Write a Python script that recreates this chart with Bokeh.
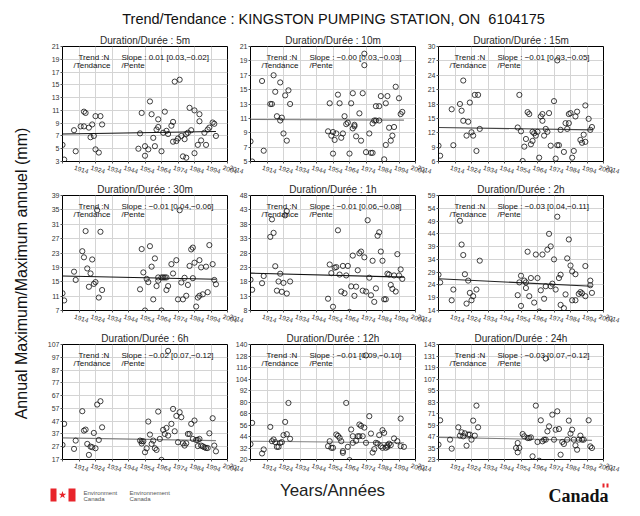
import math
from bokeh.plotting import figure
from bokeh.layouts import column, row
from bokeh.models import FixedTicker, Label, Range1d, Title
from bokeh.embed import file_html
from bokeh.resources import INLINE

MAIN_TITLE = "Trend/Tendance : KINGSTON PUMPING STATION, ON\u00a0 6104175"
Y_LABEL = "Annual Maximum/Maximum annuel (mm)"
X_LABEL = "Years/Années"

durations = ["5m", "10m", "15m", "30m", "1h", "2h", "6h", "12h", "24h"]
slope_texts = [
    "Slope : 0.01 [0.03,\u22120.02]",
    "Slope : \u22120.00 [0.03,\u22120.03]",
    "Slope : \u22120.01 [0.03,\u22120.05]",
    "Slope : \u22120.01 [0.04,\u22120.06]",
    "Slope : \u22120.01 [0.06,\u22120.08]",
    "Slope : \u22120.03 [0.04,\u22120.11]",
    "Slope : \u22120.02 [0.07,\u22120.12]",
    "Slope : \u22120.01 [0.09,\u22120.10]",
    "Slope : \u22120.03 [0.07,\u22120.12]",
]
trend_texts = ["Trend :N"] * 9

x_ticks = [1914, 1924, 1934, 1944, 1954, 1964, 1974, 1984, 1994, 2004, 2014]

y_ticks_5m = [3, 5, 7, 9, 11, 13, 15, 17, 19, 21]
y_ticks_10m = [5, 7, 9, 11, 13, 15, 17, 19, 21]
y_ticks_15m = [6, 9, 12, 15, 18, 21, 24, 27, 30]
y_ticks_30m = [7, 11, 15, 19, 23, 27, 31, 35, 39]
y_ticks_1h = [8, 13, 18, 23, 28, 33, 38, 43, 48]
y_ticks_2h = [14, 19, 24, 29, 34, 39, 44, 49, 54, 59]
y_ticks_6h = [17, 27, 37, 47, 57, 67, 77, 87, 97, 107]
y_ticks_12h = [20, 32, 44, 56, 68, 80, 92, 104, 116, 128, 140]
y_ticks_24h = [23, 35, 47, 59, 71, 83, 95, 107, 119, 131, 143]

years_5m = [1914, 1915, 1921, 1922, 1925, 1927, 1927, 1928, 1930, 1931, 1932, 1933, 1934, 1934, 1936, 1937, 1938,
            1960, 1961, 1962, 1964, 1964, 1966, 1967, 1968, 1969, 1970, 1971, 1972, 1972, 1974, 1975, 1976, 1977,
            1978, 1980, 1981, 1981, 1982, 1983, 1984, 1985, 1986, 1987, 1988, 1989, 1989, 1990, 1991, 1992, 1994,
            1994, 1996, 1997, 1997, 1998, 2000, 2001, 2002, 2003, 2005, 2006, 2007]
vals_5m = [5.6, 3.3, 7.9, 4.6, 8.5, 8.5, 10.8, 10.6, 8.3, 6.8, 8.8, 7.0, 4.9, 10.1, 4.4, 10.1, 8.8,
           5.0, 7.4, 10.6, 3.9, 5.4, 4.9, 12.4, 10.4, 6.7, 5.4, 8.0, 9.6, 8.4, 4.6, 7.5, 10.8, 7.8,
           7.3, 8.6, 6.1, 9.2, 15.5, 6.2, 6.6, 15.8, 7.0, 3.8, 6.5, 3.6, 7.3, 7.5, 11.4, 7.9, 11.0,
           4.3, 5.6, 9.3, 10.4, 6.3, 7.5, 5.6, 8.0, 8.3, 9.1, 8.9, 7.0]

years_10m = [1914, 1915, 1921, 1922, 1926, 1927, 1928, 1929, 1930, 1932, 1932, 1933, 1934, 1935, 1936, 1937, 1938,
             1961, 1962, 1963, 1964, 1964, 1965, 1966, 1967, 1968, 1969, 1970, 1971, 1972, 1973, 1974, 1975, 1976,
             1976, 1977, 1977, 1978, 1980, 1981, 1982, 1983, 1983, 1984, 1986, 1987, 1988, 1988, 1989, 1990, 1990,
             1992, 1992, 1993, 1995, 1996, 1996, 1997, 1998, 1999, 2000, 2001, 2002, 2004, 2005, 2006]
vals_10m = [7.8, 5.0, 16.2, 6.5, 13.0, 13.0, 17.0, 14.7, 11.3, 10.7, 16.0, 11.1, 8.9, 14.2, 7.9, 14.9, 13.0,
            9.2, 13.1, 8.6, 6.1, 9.1, 8.0, 8.9, 14.3, 13.1, 8.3, 8.9, 11.3, 10.2, 10.4, 6.1, 13.1, 14.5,
            9.6, 9.9, 10.1, 8.5, 11.7, 7.9, 14.5, 18.4, 20.0, 6.3, 8.9, 6.2, 10.3, 6.2, 10.7, 10.7, 12.7,
            10.7, 12.7, 14.1, 5.3, 7.3, 13.1, 14.1, 9.7, 7.9, 8.6, 9.8, 15.4, 13.8, 11.6, 11.9]

years_15m = [1914, 1915, 1922, 1923, 1927, 1928, 1929, 1929, 1931, 1932, 1933, 1934, 1935, 1936, 1937, 1938, 1939,
             1962, 1963, 1964, 1965, 1966, 1967, 1968, 1969, 1970, 1971, 1971, 1972, 1973, 1974, 1975, 1976, 1977,
             1977, 1978, 1979, 1980, 1981, 1982, 1984, 1985, 1986, 1986, 1987, 1988, 1990, 1991, 1992, 1993, 1993,
             1994, 1995, 1996, 1997, 1998, 2000, 2001, 2002, 2003, 2003, 2005, 2006, 2007]
vals_15m = [9.3, 7.2, 16.9, 9.4, 18.0, 16.6, 22.9, 14.5, 11.4, 14.3, 18.3, 12.1, 11.4, 19.9, 8.2, 19.9, 12.8,
            13.1, 19.9, 12.3, 6.1, 9.1, 10.7, 16.3, 15.9, 9.6, 12.2, 10.3, 11.9, 11.4, 12.2, 6.8, 15.4, 15.9,
            14.5, 11.4, 12.8, 12.2, 16.1, 9.3, 18.6, 6.6, 27.1, 9.4, 9.4, 12.6, 8.0, 14.0, 12.8, 14.0, 15.9,
            16.1, 6.8, 8.2, 15.4, 16.4, 10.5, 9.9, 11.6, 10.1, 17.7, 14.9, 12.6, 13.2]

years_30m = [1914, 1915, 1921, 1922, 1926, 1927, 1928, 1929, 1930, 1931, 1932, 1933, 1934, 1935, 1936, 1937, 1938,
             1961, 1962, 1963, 1964, 1965, 1966, 1967, 1968, 1969, 1970, 1971, 1972, 1972, 1974, 1974, 1975, 1976,
             1977, 1977, 1978, 1980, 1981, 1983, 1984, 1985, 1986, 1987, 1988, 1989, 1990, 1991, 1992, 1993, 1993,
             1994, 1995, 1996, 1997, 1997, 1998, 1999, 2001, 2002, 2003, 2005, 2006, 2007]
vals_30m = [11.8, 9.8, 17.8, 15.5, 23.5, 21.8, 29.1, 18.7, 13.6, 17.3, 21.2, 14.4, 14.9, 34.9, 10.6, 28.9, 12.7,
            12.9, 24.1, 17.6, 7.0, 15.8, 14.9, 24.9, 19.2, 10.1, 21.5, 13.8, 15.3, 16.2, 16.2, 7.0, 16.2, 16.2,
            12.7, 16.2, 13.8, 19.9, 17.3, 21.0, 10.1, 34.9, 14.8, 10.1, 16.1, 11.1, 14.1, 19.4, 24.0, 24.5, 16.0,
            20.3, 8.1, 10.6, 11.1, 21.0, 19.0, 11.5, 19.2, 12.1, 25.2, 19.9, 15.5, 14.3]

years_1h = [1914, 1915, 1921, 1922, 1926, 1927, 1928, 1929, 1930, 1931, 1932, 1933, 1934, 1935, 1936, 1936, 1938,
            1961, 1962, 1963, 1964, 1965, 1966, 1967, 1968, 1969, 1970, 1971, 1972, 1973, 1974, 1975, 1976, 1977,
            1978, 1979, 1980, 1981, 1982, 1983, 1984, 1985, 1986, 1987, 1988, 1989, 1990, 1991, 1992, 1993, 1994,
            1995, 1996, 1997, 1998, 1999, 2000, 2001, 2002, 2003, 2004, 2005, 2006]
vals_1h = [18.7, 15.2, 17.5, 20.0, 33.6, 39.7, 35.0, 23.4, 14.9, 18.1, 20.8, 14.5, 17.6, 41.1, 42.6, 13.9, 18.1,
           12.1, 24.0, 21.0, 9.3, 22.9, 23.1, 35.9, 20.5, 14.6, 23.5, 14.0, 20.2, 23.5, 7.5, 16.4, 27.1, 13.1,
           16.3, 22.0, 27.9, 28.5, 14.9, 26.5, 14.6, 39.4, 19.4, 13.3, 25.3, 11.0, 15.7, 34.0, 35.2, 28.5, 25.3,
           11.9, 11.9, 20.8, 20.5, 16.9, 15.5, 20.2, 14.6, 27.6, 20.2, 22.3, 19.0]

years_2h = [1914, 1915, 1922, 1923, 1927, 1928, 1929, 1930, 1931, 1932, 1933, 1934, 1935, 1937, 1939,
            1962, 1963, 1964, 1964, 1966, 1967, 1967, 1968, 1969, 1970, 1972, 1973, 1974, 1975, 1976, 1977, 1978,
            1979, 1980, 1981, 1982, 1982, 1983, 1984, 1985, 1986, 1987, 1988, 1988, 1990, 1991, 1992, 1993, 1994,
            1995, 1995, 1997, 1997, 1999, 2000, 2001, 2003, 2003, 2006, 2006, 2007]
vals_2h = [28.0, 25.0, 18.0, 22.2, 49.1, 39.8, 35.7, 28.2, 16.7, 25.7, 20.9, 18.0, 19.6, 22.2, 33.5,
           20.0, 25.0, 27.6, 15.8, 25.7, 25.0, 22.8, 37.0, 19.6, 26.7, 17.1, 35.9, 26.7, 13.6, 21.9, 35.9, 18.6,
           23.5, 37.8, 44.0, 39.1, 23.5, 24.5, 34.0, 22.2, 50.7, 26.7, 16.2, 28.0, 14.9, 20.3, 34.4, 41.8, 31.6,
           29.3, 18.0, 18.0, 28.2, 20.5, 21.2, 20.7, 19.6, 31.4, 23.9, 25.7, 20.9]

years_6h = [1914, 1915, 1921, 1922, 1926, 1927, 1928, 1929, 1930, 1931, 1932, 1933, 1934, 1935, 1936, 1937, 1938,
            1961, 1962, 1962, 1963, 1964, 1965, 1966, 1967, 1968, 1969, 1970, 1971, 1972, 1973, 1974, 1975, 1976,
            1977, 1978, 1978, 1980, 1981, 1982, 1983, 1984, 1985, 1986, 1987, 1988, 1989, 1990, 1991, 1992, 1993,
            1994, 1995, 1996, 1996, 1997, 1998, 1999, 2000, 2001, 2002, 2003, 2005, 2006, 2007]
vals_6h = [28.4, 44.9, 25.3, 31.8, 54.8, 39.6, 40.4, 29.2, 20.6, 27.1, 26.6, 37.8, 25.8, 60.0, 32.3, 62.6, 42.2,
           31.8, 31.3, 29.5, 31.3, 22.7, 25.8, 46.7, 36.5, 29.2, 31.8, 25.8, 24.5, 54.5, 33.1, 16.7, 40.2, 37.0,
           41.7, 35.7, 102.0, 44.9, 56.6, 39.1, 51.1, 30.5, 54.0, 50.1, 29.7, 27.9, 29.7, 37.0, 37.0, 44.9, 33.1,
           47.5, 32.3, 32.3, 27.5, 33.1, 27.9, 27.3, 26.6, 26.0, 26.0, 37.5, 49.3, 27.9, 23.4]

years_12h = [1914, 1915, 1921, 1922, 1926, 1927, 1928, 1929, 1930, 1931, 1932, 1933, 1934, 1935, 1936, 1937, 1938,
             1961, 1962, 1963, 1964, 1966, 1967, 1968, 1969, 1970, 1970, 1972, 1973, 1974, 1975, 1976, 1976, 1978,
             1979, 1980, 1980, 1981, 1982, 1983, 1984, 1984, 1986, 1987, 1988, 1989, 1990, 1991, 1992, 1993, 1994,
             1994, 1995, 1996, 1997, 1997, 1998, 1999, 2001, 2003, 2005, 2005, 2007]
vals_12h = [36.0, 58.2, 26.3, 30.5, 54.0, 39.1, 40.9, 38.1, 33.2, 33.2, 37.4, 38.1, 45.4, 59.2, 46.4, 79.0, 41.6,
            33.9, 39.1, 32.2, 32.2, 46.1, 44.7, 42.6, 39.1, 27.0, 28.7, 79.0, 33.2, 19.4, 51.3, 37.4, 44.3, 39.5,
            44.3, 44.3, 56.5, 55.1, 44.3, 53.3, 37.4, 128.6, 65.2, 47.1, 27.3, 30.8, 37.4, 36.7, 45.4, 33.9, 32.2,
            50.6, 47.8, 32.2, 33.2, 34.8, 36.5, 35.0, 42.0, 39.1, 62.7, 33.9, 33.2]

years_24h = [1914, 1915, 1921, 1922, 1926, 1927, 1928, 1929, 1930, 1931, 1932, 1933, 1934, 1935, 1936, 1937, 1938,
             1961, 1962, 1962, 1963, 1965, 1966, 1968, 1969, 1970, 1971, 1973, 1974, 1975, 1976, 1977, 1978, 1979,
             1979, 1980, 1981, 1983, 1984, 1985, 1986, 1987, 1988, 1989, 1990, 1992, 1993, 1994, 1995, 1996, 1997,
             1998, 1999, 2000, 2001, 2002, 2005, 2006, 2007]
vals_24h = [38.5, 63.9, 43.7, 34.3, 56.6, 47.9, 51.4, 47.2, 50.3, 37.4, 49.0, 49.0, 43.7, 63.6, 47.9, 79.2, 56.6,
            35.0, 30.5, 40.2, 35.0, 49.6, 47.2, 45.4, 45.4, 46.1, 26.3, 79.2, 41.3, 21.7, 63.9, 42.0, 43.7, 43.7,
            128.4, 52.4, 57.6, 69.8, 43.7, 54.1, 73.3, 54.8, 28.0, 41.3, 39.2, 43.7, 63.6, 50.0, 54.1, 43.7, 37.8,
            33.2, 43.7, 47.9, 43.7, 43.7, 63.9, 36.7, 35.0]

trend_years = [1914, 2007]
trend_start = [7.3, 10.85, 13.1, 16.6, 21.0, 26.4, 33.9, 39.1, 46.1]
trend_end = [7.7, 10.75, 12.6, 15.7, 19.6, 23.5, 31.8, 37.4, 43.0]
trend_colors = ["#111111", "#7a7a7a", "#444444", "#111111", "#111111", "#222222", "#808080", "#808080", "#808080"]

all_years = [years_5m, years_10m, years_15m, years_30m, years_1h, years_2h, years_6h, years_12h, years_24h]
all_vals = [vals_5m, vals_10m, vals_15m, vals_30m, vals_1h, vals_2h, vals_6h, vals_12h, vals_24h]
all_yticks = [y_ticks_5m, y_ticks_10m, y_ticks_15m, y_ticks_30m, y_ticks_1h, y_ticks_2h,
              y_ticks_6h, y_ticks_12h, y_ticks_24h]

FONT = "Liberation Sans"
B_LEFT, B_RIGHT, B_TOP, B_BOTTOM = 18, 17, 13, 18
PANEL_W, PANEL_H = B_LEFT + 165 + B_RIGHT, 149
OVERLAP = B_LEFT + B_RIGHT - 23   # neighbouring panels share their (transparent) border strips
# bokeh centres rotated tick labels on the tick: pad on the left so each year starts at its tick
X_PAD = "\u00a0" * 7
x_label_overrides = {t: X_PAD + str(t) for t in x_ticks}


def make_panel(i):
    yt = all_yticks[i]
    title = Title(text="Duration/Durée : " + durations[i], align="center", text_font=FONT,
                  text_font_size="10px", text_font_style="normal", text_color="#2a2a2a",
                  standoff=1, offset=0)
    margin = (0, -OVERLAP, 0, 0) if i % 3 < 2 else (0, 0, 0, 0)
    p = figure(width=PANEL_W, height=PANEL_H, title=title, margin=margin,
               x_range=Range1d(x_ticks[0], x_ticks[-1]), y_range=Range1d(yt[0], yt[-1]),
               toolbar_location=None, output_backend="svg",
               min_border_left=B_LEFT, min_border_right=B_RIGHT,
               min_border_top=B_TOP, min_border_bottom=B_BOTTOM)
    p.outline_line_color = "black"
    p.outline_line_width = 1
    p.background_fill_color = "white"
    p.border_fill_alpha = 0

    p.xaxis.ticker = FixedTicker(ticks=x_ticks)
    p.yaxis.ticker = FixedTicker(ticks=yt)
    for ax in (p.xaxis, p.yaxis):
        ax.axis_line_color = None
        ax.major_tick_out = 2
        ax.major_tick_in = 0
        ax.minor_tick_line_color = None
        ax.major_tick_line_color = "#555555"
        ax.major_label_text_font = FONT
        ax.major_label_text_color = "#333333"
        ax.major_label_standoff = 1
    p.yaxis.major_label_text_font_size = "7px"
    p.xaxis.major_label_text_font_size = "6.5px"
    p.xaxis.major_label_orientation = -0.3
    p.xaxis.major_label_overrides = x_label_overrides
    p.xaxis.major_label_standoff = 0
    p.xgrid.grid_line_color = "#d4d4d4"
    p.ygrid.grid_line_color = "#d4d4d4"

    p.line(x=trend_years, y=[trend_start[i], trend_end[i]], line_color=trend_colors[i], line_width=1.1)
    p.scatter(x=all_years[i], y=all_vals[i], marker="circle", size=5.2,
              fill_color=None, line_color="#111111", line_width=0.8)

    x0, y1 = x_ticks[0], yt[-1]
    for txt, dx, dy in ((trend_texts[i], 16, -11), ("/Tendance", 11, -19),
                        (slope_texts[i], 59, -11), ("/Pente", 59, -19)):
        p.add_layout(Label(x=x0, y=y1, x_offset=dx, y_offset=dy, text=txt,
                           text_font=FONT, text_font_size="8px", text_color="#111111",
                           text_baseline="middle", text_align="left"))
    return p


def blank(w, h):
    p = figure(width=w, height=h, x_range=Range1d(0, w), y_range=Range1d(0, h),
               toolbar_location=None, output_backend="svg", min_border=0,
               x_axis_location=None, y_axis_location=None)
    p.grid.visible = False
    p.outline_line_color = None
    p.background_fill_color = "white"
    p.border_fill_color = "white"
    return p


panels = [make_panel(i) for i in range(9)]
grid = column(*[row(*panels[r * 3:r * 3 + 3]) for r in range(3)])

header = blank(632, 32)
header.add_layout(Label(x=333, y=14, text=MAIN_TITLE, text_font=FONT, text_font_size="14.5px",
                        text_align="center", text_baseline="middle", text_color="#111111"))

ylab = blank(44, 3 * PANEL_H)
ylab.add_layout(Label(x=21, y=206, text=Y_LABEL, angle=math.pi / 2, text_font=FONT,
                      text_font_size="16px", text_align="center", text_baseline="middle",
                      text_color="#111111"))

footer = blank(632, 34)
footer.add_layout(Label(x=332, y=23, text=X_LABEL, text_font=FONT, text_font_size="17px",
                        text_align="center", text_baseline="middle", text_color="#222222"))
# Environment Canada signature
footer.quad(left=[50, 68], right=[56, 75], bottom=[12, 12], top=[25, 25], fill_color="#e8242b", line_color=None)
footer.scatter(x=[62], y=[18.5], marker="star", size=8, fill_color="#e8242b", line_color=None)
for txt, x, y in (("Environment", 83, 21), ("Canada", 83, 15), ("Environnement", 129, 21), ("Canada", 129, 15)):
    footer.add_layout(Label(x=x, y=y, text=txt, text_font=FONT, text_font_size="6px",
                            text_baseline="middle", text_color="#555555"))
footer.add_layout(Label(x=548, y=18, text="Canada", text_font="Liberation Serif", text_font_size="18px",
                        text_font_style="bold", text_baseline="middle", text_color="#111111"))
footer.quad(left=[602, 606], right=[604, 608], bottom=[26, 26], top=[30, 30], fill_color="#e8242b", line_color=None)

layout = column(header, row(ylab, grid), footer)

with open("out.html", "w") as f:
    f.write(file_html(layout, INLINE))
